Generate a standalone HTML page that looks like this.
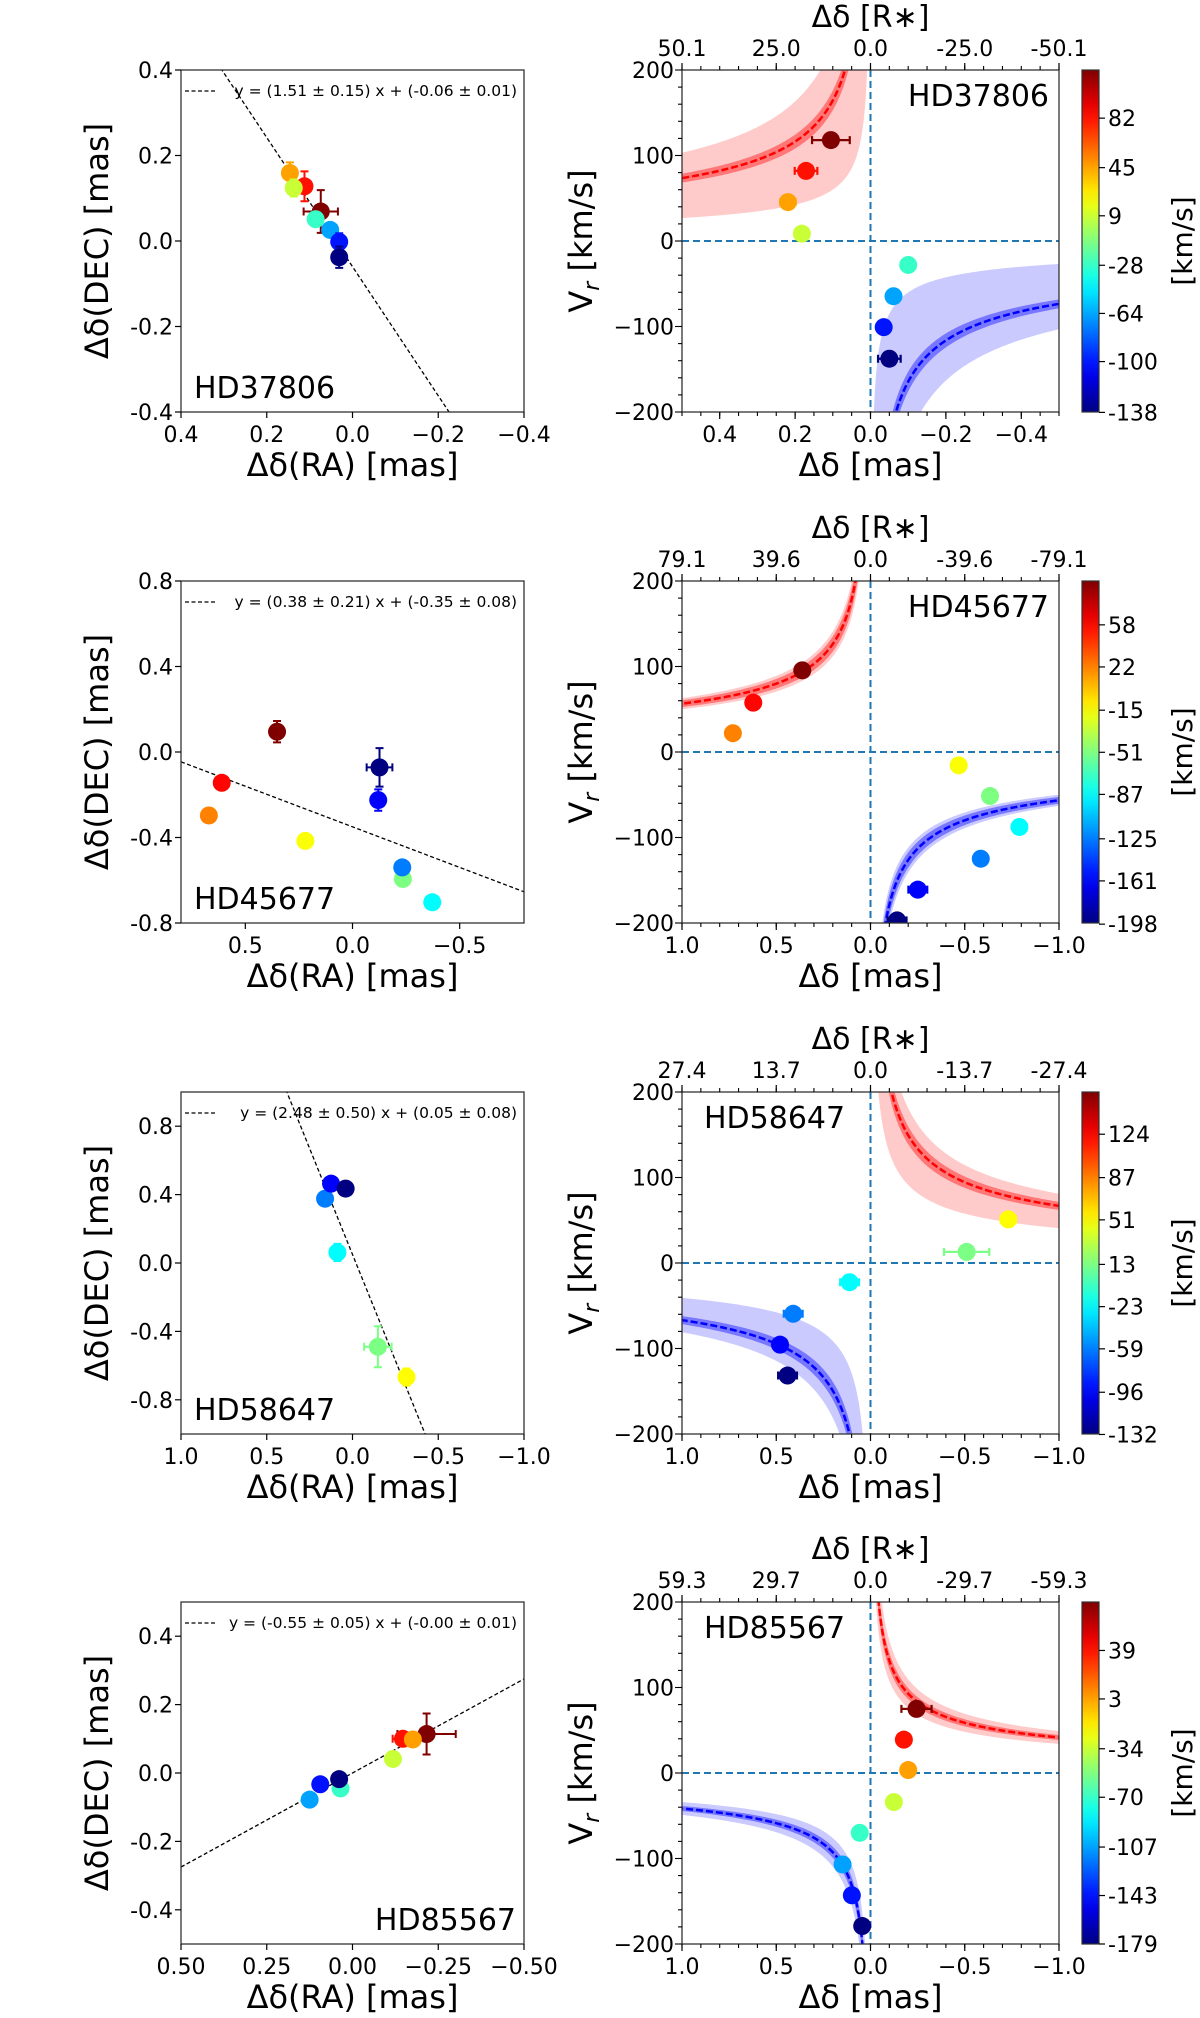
<!DOCTYPE html>
<html><head><meta charset="utf-8"><style>
html,body{margin:0;padding:0;background:#fff;}
svg{display:block;font-family:"DejaVu Sans","Liberation Sans",sans-serif;}
</style></head><body>
<svg id="fig" width="1200" height="2018" viewBox="0 0 1200 2018" xmlns="http://www.w3.org/2000/svg"></svg>
<script>
// ---------- DATA ----------
const p1Vr=[118,82,45.5,8.6,-28,-64.6,-100.8,-137.7];
const p1Off=[0.105,0.171,0.219,0.182,-0.1,-0.061,-0.035,-0.05];
const p1OffErr=[0.05,0.03,0.02,0.01,0.01,0.01,0.01,0.03];
const p1RA=[0.074,0.112,0.146,0.137,0.086,0.052,0.031,0.031];
const p1DEC=[0.069,0.128,0.159,0.124,0.051,0.026,-0.002,-0.038];
const p1RAerr=[0.04,0.015,0.01,0.01,0.01,0.01,0.01,0.015];
const p1DECerr=[0.05,0.035,0.025,0.02,0.015,0.015,0.02,0.025];
const p1Fit=[1.51,-0.06];
const p1Curve=[52,19,73];
const p1Ticks=[82,45,9,-28,-64,-100,-138];
const p1Top=["50.1","25.0","0.0","-25.0","-50.1"];

const p2Vr=[95.5,57.7,22,-15.6,-51.5,-87.7,-124.8,-161,-197];
const p2Off=[0.362,0.622,0.73,-0.468,-0.634,-0.79,-0.585,-0.251,-0.141];
const p2OffErr=[0.01,0.01,0.01,0.01,0.01,0.01,0.01,0.05,0.05];
const p2RA=[0.352,0.61,0.67,0.22,-0.235,-0.372,-0.232,-0.12,-0.126];
const p2DEC=[0.095,-0.144,-0.297,-0.416,-0.594,-0.703,-0.54,-0.225,-0.072];
const p2RAerr=[0.01,0.01,0.01,0.01,0.01,0.01,0.01,0.02,0.06];
const p2DECerr=[0.05,0.01,0.01,0.01,0.01,0.01,0.02,0.05,0.09];
const p2Fit=[0.38,-0.35];
const p2Curve=[56.5,50,63];
const p2Ticks=[58,22,-15,-51,-87,-125,-161,-198];
const p2Top=["79.1","39.6","0.0","-39.6","-79.1"];

const p3Vr=[51,13,-22.5,-59.4,-95.5,-131.6];
const p3Off=[-0.731,-0.51,0.111,0.41,0.48,0.44];
const p3OffErr=[0.04,0.12,0.05,0.05,0.01,0.05];
const p3RA=[-0.315,-0.148,0.088,0.16,0.125,0.04];
const p3DEC=[-0.667,-0.49,0.062,0.376,0.464,0.435];
const p3RAerr=[0.02,0.08,0.03,0.02,0.02,0.03];
const p3DECerr=[0.05,0.12,0.05,0.03,0.03,0.04];
const p3Fit=[2.48,0.05];
const p3Curve=[66.8,40.8,81];
const p3Ticks=[124,87,51,13,-23,-59,-96,-132];
const p3Top=["27.4","13.7","0.0","-13.7","-27.4"];
const p3Max=160;

const p4Vr=[75,39,3.5,-34,-70,-107,-143,-179];
const p4Off=[-0.244,-0.177,-0.2,-0.124,0.057,0.148,0.099,0.044];
const p4OffErr=[0.08,0.01,0.01,0.01,0.01,0.01,0.01,0.01];
const p4RA=[-0.216,-0.147,-0.176,-0.118,0.035,0.125,0.094,0.039];
const p4DEC=[0.114,0.1,0.098,0.041,-0.045,-0.078,-0.033,-0.018];
const p4RAerr=[0.085,0.03,0.01,0.01,0.01,0.01,0.01,0.02];
const p4DECerr=[0.06,0.01,0.01,0.01,0.01,0.01,0.01,0.01];
const p4Fit=[-0.55,0.0];
const p4Curve=[41.5,34,49];
const p4Ticks=[39,3,-34,-70,-107,-143,-179];
const p4Top=["59.3","29.7","0.0","-29.7","-59.3"];

// ---------- LAYOUT ----------
const NS="http://www.w3.org/2000/svg";
const svg=document.getElementById('fig');
function el(tag,attrs,parent,text){const e=document.createElementNS(NS,tag);for(const k in attrs)e.setAttribute(k,attrs[k]);if(text!==undefined)e.textContent=text;(parent||svg).appendChild(e);return e;}
function jet(t){t=Math.max(0,Math.min(1,t));const c=v=>Math.round(255*Math.max(0,Math.min(1,v)));return `rgb(${c(1.5-Math.abs(4*t-3))},${c(1.5-Math.abs(4*t-2))},${c(1.5-Math.abs(4*t-1))})`;}

const panels=[
 {top:70,name:"HD37806",vr:p1Vr,off:p1Off,offErr:p1OffErr,ra:p1RA,dec:p1DEC,raErr:p1RAerr,decErr:p1DECerr,fit:p1Fit,curve:p1Curve,cbt:p1Ticks,topL:p1Top,
  lx:0.4,ly:0.4,lxt:[0.4,0.2,0,-0.2,-0.4],lxl:["0.4","0.2","0.0","\u22120.2","\u22120.4"],lyt:[0.4,0.2,0,-0.2,-0.4],lyl:["0.4","0.2","0.0","-0.2","-0.4"],
  rx:0.5,rxt:[0.4,0.2,0,-0.2,-0.4],rxl:["0.4","0.2","0.0","\u22120.2","\u22120.4"],minor:0.05,redSide:1,leftName:"bl",rightName:"tr"},
 {top:581,name:"HD45677",vr:p2Vr,off:p2Off,offErr:p2OffErr,ra:p2RA,dec:p2DEC,raErr:p2RAerr,decErr:p2DECerr,fit:p2Fit,curve:p2Curve,cbt:p2Ticks,topL:p2Top,
  lx:0.8,ly:0.8,lxt:[0.5,0,-0.5],lxl:["0.5","0.0","\u22120.5"],lyt:[0.8,0.4,0,-0.4,-0.8],lyl:["0.8","0.4","0.0","-0.4","-0.8"],
  rx:1,rxt:[1,0.5,0,-0.5,-1],rxl:["1.0","0.5","0.0","\u22120.5","\u22121.0"],minor:0.1,redSide:1,leftName:"bl",rightName:"tr"},
 {top:1092,name:"HD58647",vr:p3Vr,off:p3Off,offErr:p3OffErr,ra:p3RA,dec:p3DEC,raErr:p3RAerr,decErr:p3DECerr,fit:p3Fit,curve:p3Curve,cbt:p3Ticks,topL:p3Top,vmax:p3Max,
  lx:1,ly:1,lxt:[1,0.5,0,-0.5,-1],lxl:["1.0","0.5","0.0","\u22120.5","\u22121.0"],lyt:[0.8,0.4,0,-0.4,-0.8],lyl:["0.8","0.4","0.0","-0.4","-0.8"],
  rx:1,rxt:[1,0.5,0,-0.5,-1],rxl:["1.0","0.5","0.0","\u22120.5","\u22121.0"],minor:0.1,redSide:-1,leftName:"bl",rightName:"tl"},
 {top:1602,name:"HD85567",vr:p4Vr,off:p4Off,offErr:p4OffErr,ra:p4RA,dec:p4DEC,raErr:p4RAerr,decErr:p4DECerr,fit:p4Fit,curve:p4Curve,cbt:p4Ticks,topL:p4Top,
  lx:0.5,ly:0.5,lxt:[0.5,0.25,0,-0.25,-0.5],lxl:["0.50","0.25","0.00","\u22120.25","\u22120.50"],lyt:[0.4,0.2,0,-0.2,-0.4],lyl:["0.4","0.2","0.0","-0.2","-0.4"],
  rx:1,rxt:[1,0.5,0,-0.5,-1],rxl:["1.0","0.5","0.0","\u22120.5","\u22121.0"],minor:0.1,redSide:-1,leftName:"br",rightName:"tl"}
];
const H=342, LX0=181, LW=343, RX0=682, RW=377, CBX=1082, CBW=17;
const TICKF=22, TITLEF=32, NAMEF=30;

const defs=el('defs',{});
const grad=el('linearGradient',{id:'jetg',x1:0,y1:1,x2:0,y2:0},defs);
for(let i=0;i<=20;i++){el('stop',{offset:i/20,'stop-color':jet(i/20)},grad);}

panels.forEach((P,pi)=>{
  const T=P.top, B=T+H;
  const vmin=Math.min(...P.vr), vmax=P.vmax!==undefined?P.vmax:Math.max(...P.vr);
  const col=v=>jet((v-vmin)/(vmax-vmin));

  // ===== LEFT PANEL =====
  const g=el('g',{});
  
  
  const X=v=>LX0+(P.lx-v)/(2*P.lx)*LW;
  const Y=v=>T+(P.ly-v)/(2*P.ly)*H;
  const cid='clipL'+pi;
  const cp=el('clipPath',{id:cid},defs); el('rect',{x:LX0,y:T,width:LW,height:H},cp);
  const x1=P.lx, x2=-P.lx;
  const fl=el('line',{x1:X(x1),y1:Y(P.fit[0]*x1+P.fit[1]),x2:X(x2),y2:Y(P.fit[0]*x2+P.fit[1]),stroke:'#000','stroke-width':1.3,'stroke-dasharray':'4,2.5','clip-path':`url(#${cid})`},g);
  
  
  P.ra.forEach((rx,i)=>{
    const c=col(P.vr[i]), cx=X(rx), cy=Y(P.dec[i]);
    const ex=Math.abs(X(rx+P.raErr[i])-cx), ey=Math.abs(Y(P.dec[i]+P.decErr[i])-cy);
    el('path',{d:`M${cx-ex},${cy}H${cx+ex}M${cx-ex},${cy-4}V${cy+4}M${cx+ex},${cy-4}V${cy+4}M${cx},${cy-ey}V${cy+ey}M${cx-4},${cy-ey}H${cx+4}M${cx-4},${cy+ey}H${cx+4}`,stroke:c,'stroke-width':2,fill:'none'},g);
    const pt=el('circle',{cx:cx,cy:cy,r:9,fill:c},g);
    
    
  });
  el('rect',{x:LX0,y:T,width:LW,height:H,fill:'none',stroke:'#333','stroke-width':1.3},g);
  P.lxt.forEach((v,i)=>{el('line',{x1:X(v),x2:X(v),y1:B,y2:B+6,stroke:'#000','stroke-width':1.2},g);
    const t=el('text',{x:X(v),y:B+30,'font-size':TICKF,'text-anchor':'middle'},g,P.lxl[i]);
    });
  P.lyt.forEach((v,i)=>{el('line',{x1:LX0-6,x2:LX0,y1:Y(v),y2:Y(v),stroke:'#000','stroke-width':1.2},g);
    const t=el('text',{x:LX0-8,y:Y(v)+8,'font-size':TICKF,'text-anchor':'end'},g,P.lyl[i]);
    });
  const lg=el('g',{},g);
  
  
  el('line',{x1:LX0+4,x2:LX0+36,y1:T+21,y2:T+21,stroke:'#000','stroke-width':1.2,'stroke-dasharray':'4,2.5'},lg);
  const errTxt=['1.51 ± 0.15','0.38 ± 0.21','2.48 ± 0.50','-0.55 ± 0.05'][pi];
  const intTxt=['-0.06 ± 0.01','-0.35 ± 0.08','0.05 ± 0.08','-0.00 ± 0.01'][pi];
  el('text',{x:LX0+LW-7,y:T+26,'font-size':15.5,'text-anchor':'end'},lg,`y = (${errTxt}) x + (${intTxt})`);
  const nmL=P.leftName==='br'?el('text',{x:LX0+LW-8,y:B-14,'font-size':NAMEF,'text-anchor':'end'},g,P.name):el('text',{x:LX0+13,y:B-14,'font-size':NAMEF},g,P.name);
  
  const xl=el('text',{x:LX0+LW/2,y:B+64,'font-size':TITLEF,'text-anchor':'middle'},g,'Δδ(RA) [mas]');
  
  const yl=el('text',{x:0,y:0,'font-size':TITLEF,'text-anchor':'middle',transform:`translate(108,${T+H/2}) rotate(-90)`},g,'Δδ(DEC) [mas]');
  

  // ===== RIGHT PANEL =====
  const r=el('g',{});
  
  
  const RXf=v=>RX0+(P.rx-v)/(2*P.rx)*RW;
  const RY=v=>T+(200-v)/400*H;
  const rid='clipR'+pi;
  const cr=el('clipPath',{id:rid},defs); el('rect',{x:RX0,y:T,width:RW,height:H},cr);
  const cg=el('g',{'clip-path':`url(#${rid})`},r);
  const clampV=v=>Math.max(-400,Math.min(400,v));
  function xsFor(side){const xs=[];const N=150;for(let i=0;i<=N;i++){const f=i/N;xs.push(side*(0.0005+f*f*(P.rx*1.02)));}return xs;}
  function band(side,sgn,A1,A2,fill,op){
    const xs=xsFor(side);let d='';
    xs.forEach((x,i)=>{d+=(i?'L':'M')+RXf(x)+','+RY(clampV(sgn*A1/Math.sqrt(Math.abs(x))));});
    for(let i=xs.length-1;i>=0;i--){const x=xs[i];d+='L'+RXf(x)+','+RY(clampV(sgn*A2/Math.sqrt(Math.abs(x))));}
    return el('path',{d:d+'Z',fill:fill,'fill-opacity':op},cg);
  }
  function curve(side,sgn,A,color){
    const xs=xsFor(side);let d='';
    xs.forEach((x,i)=>{d+=(i?'L':'M')+RXf(x)+','+RY(clampV(sgn*A/Math.sqrt(Math.abs(x))));});
    return el('path',{d:d,fill:'none',stroke:color,'stroke-width':2.5,'stroke-dasharray':'7,3'},cg);
  }
  const [A,Alo,Ahi]=P.curve;
  const rs=P.redSide;
  const b1=band(rs,1,Alo,Ahi,'#ff6666',0.35);  
  band(rs,1,A*0.93,A*1.07,'#ff3333',0.55);
  const b2=band(-rs,-1,Alo,Ahi,'#6666ff',0.35);  
  band(-rs,-1,A*0.93,A*1.07,'#3333ff',0.55);
  const c1=curve(rs,1,A,'#ff0000');  
  const c2=curve(-rs,-1,A,'#0000ff');  
  el('line',{x1:RXf(0),x2:RXf(0),y1:T,y2:B,stroke:'#1f77b4','stroke-width':2,'stroke-dasharray':'7,4'},cg);
  el('line',{x1:RX0,x2:RX0+RW,y1:RY(0),y2:RY(0),stroke:'#1f77b4','stroke-width':2,'stroke-dasharray':'7,4'},cg);
  P.off.forEach((x,i)=>{
    const c=col(P.vr[i]),cx=RXf(x),cy=RY(P.vr[i]);
    const ex=Math.abs(RXf(x+P.offErr[i])-cx);
    el('path',{d:`M${cx-ex},${cy}H${cx+ex}M${cx-ex},${cy-4}V${cy+4}M${cx+ex},${cy-4}V${cy+4}`,stroke:c,'stroke-width':2.2,fill:'none'},cg);
    const pt=el('circle',{cx:cx,cy:cy,r:9,fill:c},cg);
    
    
  });
  el('rect',{x:RX0,y:T,width:RW,height:H,fill:'none',stroke:'#333','stroke-width':1.3},r);
  for(let v=-200;v<=200;v+=20){const maj=v%100===0;el('line',{x1:RX0-(maj?7:4),x2:RX0,y1:RY(v),y2:RY(v),stroke:'#000','stroke-width':1.1},r);}
  [200,100,0,-100,-200].forEach(v=>{const t=el('text',{x:RX0-8,y:RY(v)+8,'font-size':TICKF,'text-anchor':'end'},r,v<0?'\u2212'+Math.abs(v):String(v));
    });
  const nm=Math.round(2*P.rx/P.minor);
  for(let i=0;i<=nm;i++){const v=-P.rx+i*P.minor;el('line',{x1:RXf(v),x2:RXf(v),y1:B,y2:B+4,stroke:'#000','stroke-width':1.1},r);el('line',{x1:RXf(v),x2:RXf(v),y1:T,y2:T-4,stroke:'#000','stroke-width':1.1},r);}
  P.rxt.forEach((v,i)=>{el('line',{x1:RXf(v),x2:RXf(v),y1:B,y2:B+7,stroke:'#000','stroke-width':1.2},r);
    const t=el('text',{x:RXf(v),y:B+30,'font-size':TICKF,'text-anchor':'middle'},r,P.rxl[i]);
    });
  [P.rx,P.rx/2,0,-P.rx/2,-P.rx].forEach((v,i)=>{el('line',{x1:RXf(v),x2:RXf(v),y1:T,y2:T-7,stroke:'#000','stroke-width':1.2},r);
    const t=el('text',{x:RXf(v),y:T-14,'font-size':TICKF,'text-anchor':'middle'},r,P.topL[i]);
    });
  const tt=el('text',{x:RX0+RW/2,y:T-43,'font-size':30,'text-anchor':'middle'},r,'Δδ [R\u2217]');
  
  const xr=el('text',{x:RX0+RW/2,y:B+64,'font-size':TITLEF,'text-anchor':'middle'},r,'Δδ [mas]');
  
  const yr=el('text',{x:0,y:0,'font-size':TITLEF,'text-anchor':'middle',transform:`translate(592,${T+H/2}) rotate(-90)`},r);
  
  el('tspan',{},yr,'V');el('tspan',{'font-size':22,'font-style':'italic',dy:7},yr,'r');el('tspan',{dy:-7},yr,' [km/s]');
  const nmR=P.rightName==='tr'?el('text',{x:RX0+RW-10,y:T+36,'font-size':NAMEF,'text-anchor':'end'},r,P.name):el('text',{x:RX0+22,y:T+36,'font-size':NAMEF},r,P.name);
  

  // ===== COLORBAR =====
  const cb=el('g',{});
  
  
  el('rect',{x:CBX,y:T,width:CBW,height:H,fill:'url(#jetg)',stroke:'#333','stroke-width':1.2},cb);
  const CY=v=>B-(v-vmin)/(vmax-vmin)*H;
  P.cbt.forEach(v=>{el('line',{x1:CBX+CBW,x2:CBX+CBW+6,y1:CY(v),y2:CY(v),stroke:'#000','stroke-width':1.2},cb);
    const t=el('text',{x:CBX+CBW+9,y:CY(v)+8,'font-size':TICKF},cb,String(v));
    });
  const cl=el('text',{x:0,y:0,'font-size':28,'text-anchor':'middle',transform:`translate(1192,${T+H/2}) rotate(-90)`},cb,'[km/s]');
  
});
</script>
</body></html>
